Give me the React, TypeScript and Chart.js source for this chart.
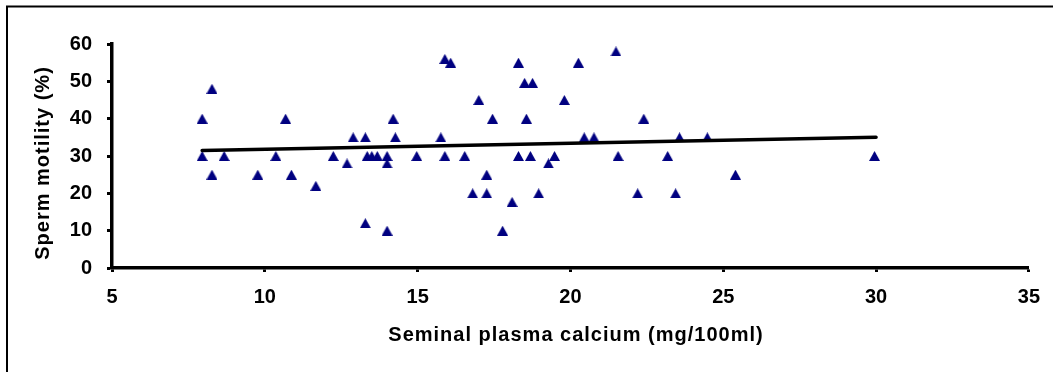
import React, { useEffect, useRef } from "react";
import { Chart, registerables } from "chart.js";

Chart.register(...registerables);

// Seminal plasma calcium (mg/100ml)
const calcium = [
  7.95, 7.95, 8.27, 8.27, 8.67, 9.77, 10.36, 10.68, 10.87, 11.67,
  12.24, 12.69, 12.89, 13.29, 13.29, 13.35, 13.5, 13.68, 14.0, 14.0,
  14.0, 14.2, 14.27, 14.97, 15.76, 15.89, 16.08, 15.89, 16.54, 16.8,
  17.0, 17.26, 17.26, 17.45, 17.78, 18.09, 18.3, 18.3, 18.5, 18.76,
  18.56, 18.69, 18.96, 19.28, 19.48, 19.8, 20.26, 20.45, 20.77, 21.49,
  21.56, 22.4, 22.2, 23.18, 23.44, 23.57, 24.48, 25.4, 29.95,
];
// Sperm motility (%)
const motility = [
  40, 30, 48, 25, 30, 25, 30, 40, 25, 22,
  30, 28, 35, 35, 12, 30, 30, 30, 30, 28,
  10, 40, 35, 30, 35, 56, 55, 30, 30, 20,
  45, 25, 20, 40, 10, 17.7, 55, 30, 49.6, 49.6,
  40, 30, 20, 28, 30, 45, 55, 35, 35, 58,
  30, 40, 20, 30, 20, 35, 35, 25, 30,
];
// Trendline end points
const trendX = [7.95, 30.0];
const trendY = [31.5, 35.0];

const xTicks = [5, 10, 15, 20, 25, 30, 35];
const yTicks = [0, 10, 20, 30, 40, 50, 60];

const FONT = "Arial, 'Liberation Sans', sans-serif";

function makeTriangle(): HTMLCanvasElement {
  const c = document.createElement("canvas");
  c.width = 11;
  c.height = 10;
  const ctx = c.getContext("2d")!;
  ctx.fillStyle = "#000080";
  ctx.beginPath();
  ctx.moveTo(5.5, 0);
  ctx.lineTo(11, 10);
  ctx.lineTo(0, 10);
  ctx.closePath();
  ctx.fill();
  return c;
}

const decorPlugin = {
  id: "decor",
  beforeDraw(chart: any) {
    const ctx = chart.ctx;
    ctx.save();
    ctx.fillStyle = "#ffffff";
    ctx.fillRect(0, 0, chart.width, chart.height);
    ctx.strokeStyle = "#000000";
    ctx.lineWidth = 2;
    ctx.strokeRect(7, 6.5, 3000, 3000);
    ctx.restore();
  },
  afterDraw(chart: any) {
    const ctx = chart.ctx;
    ctx.save();
    ctx.fillStyle = "#000000";
    ctx.font = `bold 20px ${FONT}`;
    try { (ctx as any).letterSpacing = "1px"; } catch (e) {}
    ctx.textAlign = "center";
    ctx.textBaseline = "alphabetic";
    ctx.fillText("Seminal plasma calcium (mg/100ml)", 576, 341);
    ctx.translate(48.5, 163);
    ctx.rotate(-Math.PI / 2);
    ctx.fillText("Sperm motility (%)", 0, 0);
    ctx.restore();
  },
};

export default function App() {
  const ref = useRef<HTMLCanvasElement>(null);
  useEffect(() => {
    document.body.style.margin = "0";
    const tri = makeTriangle();
    const points = calcium.map((x, i) => ({ x, y: motility[i] }));
    const trend = trendX.map((x, i) => ({ x, y: trendY[i] }));
    const chart = new Chart(ref.current!, {
      type: "scatter",
      data: {
        datasets: [
          {
            type: "line",
            data: trend,
            borderColor: "#000000",
            borderWidth: 3.5,
            borderCapStyle: "round",
            pointRadius: 0,
            fill: false,
            showLine: true,
          } as any,
          {
            data: points,
            pointStyle: tri as any,
            pointRadius: 5,
            backgroundColor: "#000080",
            borderColor: "#000080",
          },
        ],
      },
      plugins: [decorPlugin],
      options: {
        animation: false,
        responsive: false,
        events: [],
        layout: { padding: { top: 44, right: 22, left: 0, bottom: 0 } },
        plugins: { legend: { display: false }, tooltip: { enabled: false } },
        scales: {
          x: {
            type: "linear",
            min: 5,
            max: 35,
            afterFit: (s: any) => { s.height = 104; },
            afterBuildTicks: (s: any) => { s.ticks = xTicks.map((v) => ({ value: v })); },
            ticks: {
              color: "#000000",
              font: { family: FONT, size: 20, weight: "bold" },
              padding: 13,
              maxRotation: 0,
            },
            grid: {
              drawOnChartArea: false,
              drawTicks: true,
              tickLength: 4,
              tickWidth: 3,
              color: "#000000",
            },
            border: { display: true, color: "#000000", width: 3.5 },
          },
          y: {
            type: "linear",
            min: 0,
            max: 60,
            afterFit: (s: any) => { s.width = 112; },
            afterBuildTicks: (s: any) => { s.ticks = yTicks.map((v) => ({ value: v })); },
            ticks: {
              color: "#000000",
              font: { family: FONT, size: 20, weight: "bold" },
              padding: 15,
            },
            grid: {
              drawOnChartArea: false,
              drawTicks: true,
              tickLength: 5,
              tickWidth: 3,
              color: "#000000",
            },
            border: { display: true, color: "#000000", width: 3.5 },
          },
        },
      },
    });
    return () => chart.destroy();
  }, []);
  return <canvas ref={ref} width={1053} height={372} style={{ display: "block" }} />;
}
